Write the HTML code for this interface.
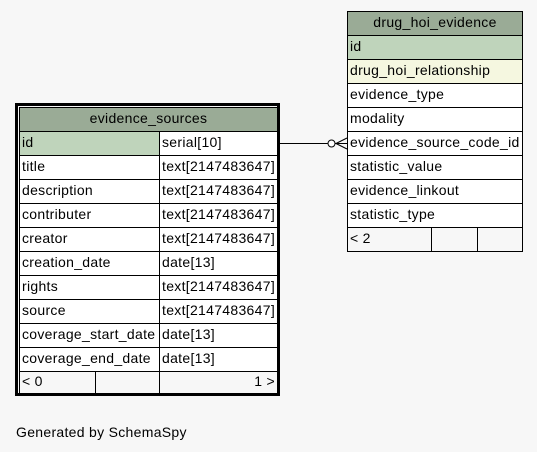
<!DOCTYPE html>
<html><head><meta charset="utf-8"><style>
html,body{margin:0;padding:0;background:#f7f7f7;}
svg{display:block;}
text{font-family:"Liberation Sans",Arial,sans-serif;font-size:14px;letter-spacing:0.3px;fill:#000;}
</style></head><body>
<svg width="537" height="452" viewBox="0 0 537 452" xmlns="http://www.w3.org/2000/svg">
<rect width="537" height="452" fill="#f7f7f7"/>
<!-- Left table -->
<rect x="16.5" y="104.5" width="262" height="290" fill="none" stroke="#000" stroke-width="3"/>
<rect x="19.5" y="107.5" width="258" height="24" fill="#9aab96" stroke="#000"/>
<text x="148.5" y="123" text-anchor="middle">evidence_sources</text>
<g stroke="#000">
<rect x="19.5" y="131.5" width="140" height="24" fill="#bfd4bb"/>
<rect x="159.5" y="131.5" width="118" height="24" fill="#fff"/>
</g>
<g stroke="#000" fill="#fff">
<rect x="19.5" y="155.5" width="140" height="24"/><rect x="159.5" y="155.5" width="118" height="24"/>
<rect x="19.5" y="179.5" width="140" height="24"/><rect x="159.5" y="179.5" width="118" height="24"/>
<rect x="19.5" y="203.5" width="140" height="24"/><rect x="159.5" y="203.5" width="118" height="24"/>
<rect x="19.5" y="227.5" width="140" height="24"/><rect x="159.5" y="227.5" width="118" height="24"/>
<rect x="19.5" y="251.5" width="140" height="24"/><rect x="159.5" y="251.5" width="118" height="24"/>
<rect x="19.5" y="275.5" width="140" height="24"/><rect x="159.5" y="275.5" width="118" height="24"/>
<rect x="19.5" y="299.5" width="140" height="24"/><rect x="159.5" y="299.5" width="118" height="24"/>
<rect x="19.5" y="323.5" width="140" height="24"/><rect x="159.5" y="323.5" width="118" height="24"/>
<rect x="19.5" y="347.5" width="140" height="24"/><rect x="159.5" y="347.5" width="118" height="24"/>
</g>
<g stroke="#000" fill="#f7f7f7">
<rect x="19.5" y="371.5" width="76" height="22"/>
<rect x="95.5" y="371.5" width="64" height="22"/>
<rect x="159.5" y="371.5" width="118" height="22"/>
</g>
<g>
<text x="22" y="147">id</text><text x="162" y="147">serial[10]</text>
<text x="22" y="171">title</text><text x="162" y="171">text[2147483647]</text>
<text x="22" y="195">description</text><text x="162" y="195">text[2147483647]</text>
<text x="22" y="219">contributer</text><text x="162" y="219">text[2147483647]</text>
<text x="22" y="243">creator</text><text x="162" y="243">text[2147483647]</text>
<text x="22" y="267">creation_date</text><text x="162" y="267">date[13]</text>
<text x="22" y="291">rights</text><text x="162" y="291">text[2147483647]</text>
<text x="22" y="315">source</text><text x="162" y="315">text[2147483647]</text>
<text x="22" y="339">coverage_start_date</text><text x="162" y="339">date[13]</text>
<text x="22" y="363">coverage_end_date</text><text x="162" y="363">date[13]</text>
<text x="22" y="386">&lt; 0</text><text x="275" y="386" text-anchor="end">1 &gt;</text>
</g>
<!-- Right table -->
<g stroke="#000">
<rect x="347.5" y="11.5" width="175" height="24" fill="#9aab96"/>
<rect x="347.5" y="35.5" width="175" height="24" fill="#bfd4bb"/>
<rect x="347.5" y="59.5" width="175" height="24" fill="#f5f7e0"/>
<rect x="347.5" y="83.5" width="175" height="24" fill="#fff"/>
<rect x="347.5" y="107.5" width="175" height="24" fill="#fff"/>
<rect x="347.5" y="131.5" width="175" height="24" fill="#fff"/>
<rect x="347.5" y="155.5" width="175" height="24" fill="#fff"/>
<rect x="347.5" y="179.5" width="175" height="24" fill="#fff"/>
<rect x="347.5" y="203.5" width="175" height="24" fill="#fff"/>
<rect x="347.5" y="227.5" width="84" height="24" fill="#f7f7f7"/>
<rect x="431.5" y="227.5" width="46" height="24" fill="#f7f7f7"/>
<rect x="477.5" y="227.5" width="45" height="24" fill="#f7f7f7"/>
</g>
<text x="435" y="27" text-anchor="middle">drug_hoi_evidence</text>
<text x="350" y="51">id</text>
<text x="350" y="75">drug_hoi_relationship</text>
<text x="350" y="99">evidence_type</text>
<text x="350" y="123">modality</text>
<text x="350" y="147">evidence_source_code_id</text>
<text x="350" y="171">statistic_value</text>
<text x="350" y="195">evidence_linkout</text>
<text x="350" y="219">statistic_type</text>
<text x="350" y="243">&lt; 2</text>
<!-- connector -->
<g stroke="#000" fill="none">
<line x1="280" y1="143.5" x2="327.5" y2="143.5"/>
<circle cx="331.5" cy="143.5" r="3.5" fill="#fff"/>
<line x1="335" y1="143.5" x2="347" y2="143.5"/>
<line x1="336" y1="143.5" x2="347" y2="138"/>
<line x1="336" y1="143.5" x2="347" y2="149"/>
</g>
<text x="16" y="437">Generated by SchemaSpy</text>
</svg>
</body></html>
